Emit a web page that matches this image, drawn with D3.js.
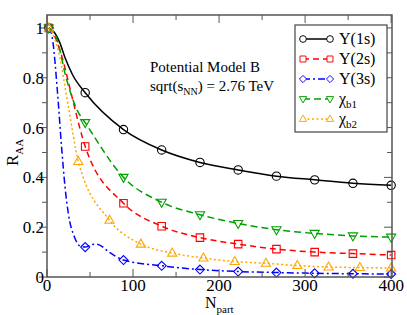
<!DOCTYPE html>
<html>
<head>
<meta charset="utf-8">
<script src="https://d3js.org/d3.v7.min.js"></script>
<style>
body { margin: 0; background: #fff; }
</style>
</head>
<body>
<div id="chart"></div>
<script>

// marker positions (Npart)
var nPart9  = [2, 44.4, 88.9, 133.3, 177.8, 222.2, 266.7, 311.1, 355.6, 400];
var nPart11 = [2, 36.4, 72.7, 109.1, 145.5, 181.8, 218.2, 254.5, 290.9, 327.3, 363.6, 400];

// R_AA at the markers
var ups1s = [1, 0.74, 0.592, 0.51, 0.46, 0.43, 0.405, 0.39, 0.376, 0.368];
var ups2s = [1, 0.524, 0.296, 0.204, 0.158, 0.132, 0.112, 0.100, 0.094, 0.088];
var ups3s = [1, 0.12, 0.068, 0.045, 0.030, 0.022, 0.018, 0.015, 0.013, 0.012];
var chib1 = [1, 0.62, 0.40, 0.30, 0.25, 0.215, 0.19, 0.175, 0.165, 0.16];
var chib2 = [1, 0.464, 0.228, 0.132, 0.096, 0.076, 0.062, 0.055, 0.046, 0.040, 0.038, 0.036];

// extra curve points between the markers [Npart, R_AA]
var ups1sExtra = [[8, 0.985], [15, 0.94], [21, 0.88], [30, 0.81]];
var ups2sExtra = [[7, 0.98], [16, 0.9], [30, 0.71], [38, 0.6]];
var ups3sExtra = [[5, 0.98], [7, 0.94], [12, 0.75], [17, 0.52], [21, 0.36], [25, 0.25], [32, 0.16], [38, 0.125], [52, 0.13], [58, 0.132], [73, 0.098]];
var chib1Extra = [[10, 0.97], [23, 0.79], [35, 0.67]];
var chib2Extra = [[6, 0.98], [13, 0.91], [25, 0.68]];

var xTicks = [0, 100, 200, 300, 400];
var yTicks = [0, 0.2, 0.4, 0.6, 0.8, 1];
var yTickLabels = ["0", "0.2", "0.4", "0.6", "0.8", "1"];

var series = [
  {name: "Y(1s)", sub: null, n: nPart9, v: ups1s, extra: ups1sExtra, color: "#000000", dash: null, sym: "circle"},
  {name: "Y(2s)", sub: null, n: nPart9, v: ups2s, extra: ups2sExtra, color: "#ff0000", dash: "6,4", sym: "square"},
  {name: "Y(3s)", sub: null, n: nPart9, v: ups3s, extra: ups3sExtra, color: "#0000ff", dash: "7,3,2,3", sym: "diamond"},
  {name: "\u03c7", sub: "b1", n: nPart9, v: chib1, extra: chib1Extra, color: "#00a000", dash: "7,4", sym: "down"},
  {name: "\u03c7", sub: "b2", n: nPart11, v: chib2, extra: chib2Extra, color: "#ffa500", dash: "2,2.5", sym: "up"}
];

var W = 407, H = 315;
var margin = {left: 47, top: 15, right: 15, bottom: 38};
var width = W - margin.left - margin.right,
    height = H - margin.top - margin.bottom;

var svg = d3.select("#chart").append("svg")
  .attr("width", W).attr("height", H)
  .attr("font-family", "'Liberation Serif', 'DejaVu Serif', serif");

var g = svg.append("g").attr("transform", "translate(" + margin.left + "," + margin.top + ")");

var x = d3.scaleLinear().domain([0, 401]).range([0, width]);
var y = d3.scaleLinear().domain([0, 1.052]).range([height, 0]);

function symPath(s) {
  if (s === "circle") return d3.symbol().type(d3.symbolCircle).size(55)();
  if (s === "square") return d3.symbol().type(d3.symbolSquare).size(56)();
  if (s === "diamond") return "M0,-4.5L4.5,0L0,4.5L-4.5,0Z";
  if (s === "up") return "M0,-5L4.6,3L-4.6,3Z";
  if (s === "down") return "M0,5L4.6,-3L-4.6,-3Z";
}

var line = d3.line()
  .x(function(d) { return x(d[0]); })
  .y(function(d) { return y(d[1]); })
  .curve(d3.curveMonotoneX);

var plot = g.append("g");

series.forEach(function(s) {
  var pts = s.n.map(function(n, i) { return [n, s.v[i]]; }).concat(s.extra);
  pts.sort(function(a, b) { return a[0] - b[0]; });
  plot.append("path")
    .attr("d", line(pts))
    .attr("fill", "none")
    .attr("stroke", s.color)
    .attr("stroke-width", 1.5)
    .attr("stroke-dasharray", s.dash);
  plot.selectAll(null)
    .data(s.n.map(function(n, i) { return [n, s.v[i]]; }))
    .enter().append("path")
      .attr("d", symPath(s.sym))
      .attr("transform", function(d) { return "translate(" + x(d[0]) + "," + y(d[1]) + ")"; })
      .attr("fill", "none")
      .attr("stroke", s.color)
      .attr("stroke-width", 1.1);
});

// frame
g.append("rect")
  .attr("width", width).attr("height", height)
  .attr("fill", "none").attr("stroke", "#555").attr("stroke-width", 1.5);

// ticks
var xMinor = d3.range(0, 401, 50);
var yMinor = d3.range(0, 1.01, 0.1);
xMinor.forEach(function(t) {
  var L = (t % 100 === 0) ? 8 : 5;
  g.append("line").attr("x1", x(t)).attr("x2", x(t)).attr("y1", height).attr("y2", height - L)
    .attr("stroke", "#555");
  g.append("line").attr("x1", x(t)).attr("x2", x(t)).attr("y1", 0).attr("y2", L)
    .attr("stroke", "#555");
});
yMinor.forEach(function(t, i) {
  var L = (i % 2 === 0) ? 8 : 5;
  g.append("line").attr("x1", 0).attr("x2", -L).attr("y1", y(t)).attr("y2", y(t))
    .attr("stroke", "#555");
  g.append("line").attr("x1", width).attr("x2", width - L).attr("y1", y(t)).attr("y2", y(t))
    .attr("stroke", "#555");
});

g.selectAll(".xt").data(xTicks).enter().append("text")
  .attr("x", function(d) { return x(d); })
  .attr("y", height + 14)
  .attr("text-anchor", "middle")
  .attr("font-size", "17px")
  .text(function(d) { return d; });

g.selectAll(".yt").data(yTicks).enter().append("text")
  .attr("x", -3)
  .attr("y", function(d) { return y(d) + 6; })
  .attr("text-anchor", "end")
  .attr("font-size", "17px")
  .text(function(d, i) { return yTickLabels[i]; });

// axis titles
var xl = svg.append("text")
  .attr("x", 205).attr("y", 308)
  .attr("font-size", "16px");
xl.append("tspan").text("N");
xl.append("tspan").attr("dy", 5).attr("font-size", "11px").text("part");

var yl = svg.append("text")
  .attr("transform", "translate(18,166) rotate(-90)")
  .attr("font-size", "17px");
yl.append("tspan").text("R");
yl.append("tspan").attr("dy", 5).attr("font-size", "11px").text("AA");

// annotation
svg.append("text").attr("x", 150).attr("y", 72).attr("font-size", "15px").text("Potential Model B");
var ann = svg.append("text").attr("x", 150).attr("y", 91).attr("font-size", "15px");
ann.append("tspan").text("sqrt(s");
ann.append("tspan").attr("dy", 4).attr("font-size", "10px").text("NN");
ann.append("tspan").attr("dy", -4).text(") = 2.76 TeV");

// legend
var lg = svg.append("g");
lg.append("rect")
  .attr("x", 295).attr("y", 25).attr("width", 92).attr("height", 107)
  .attr("fill", "#fff").attr("stroke", "#444").attr("stroke-width", 1.2);

series.forEach(function(s, i) {
  var yy = 39 + i * 20;
  lg.append("line")
    .attr("x1", 303).attr("x2", 330).attr("y1", yy).attr("y2", yy)
    .attr("stroke", s.color).attr("stroke-width", 1.5)
    .attr("stroke-dasharray", s.dash);
  [303, 330].forEach(function(px) {
    lg.append("path")
      .attr("d", symPath(s.sym))
      .attr("transform", "translate(" + px + "," + yy + ") scale(0.8)")
      .attr("fill", "#fff").attr("stroke", s.color).attr("stroke-width", 1.2);
  });
  var t = lg.append("text").attr("x", 339).attr("y", yy + 5).attr("font-size", "16px");
  t.append("tspan").text(s.name);
  if (s.sub) t.append("tspan").attr("dy", 4).attr("font-size", "11px").text(s.sub);
});

</script>
</body>
</html>
